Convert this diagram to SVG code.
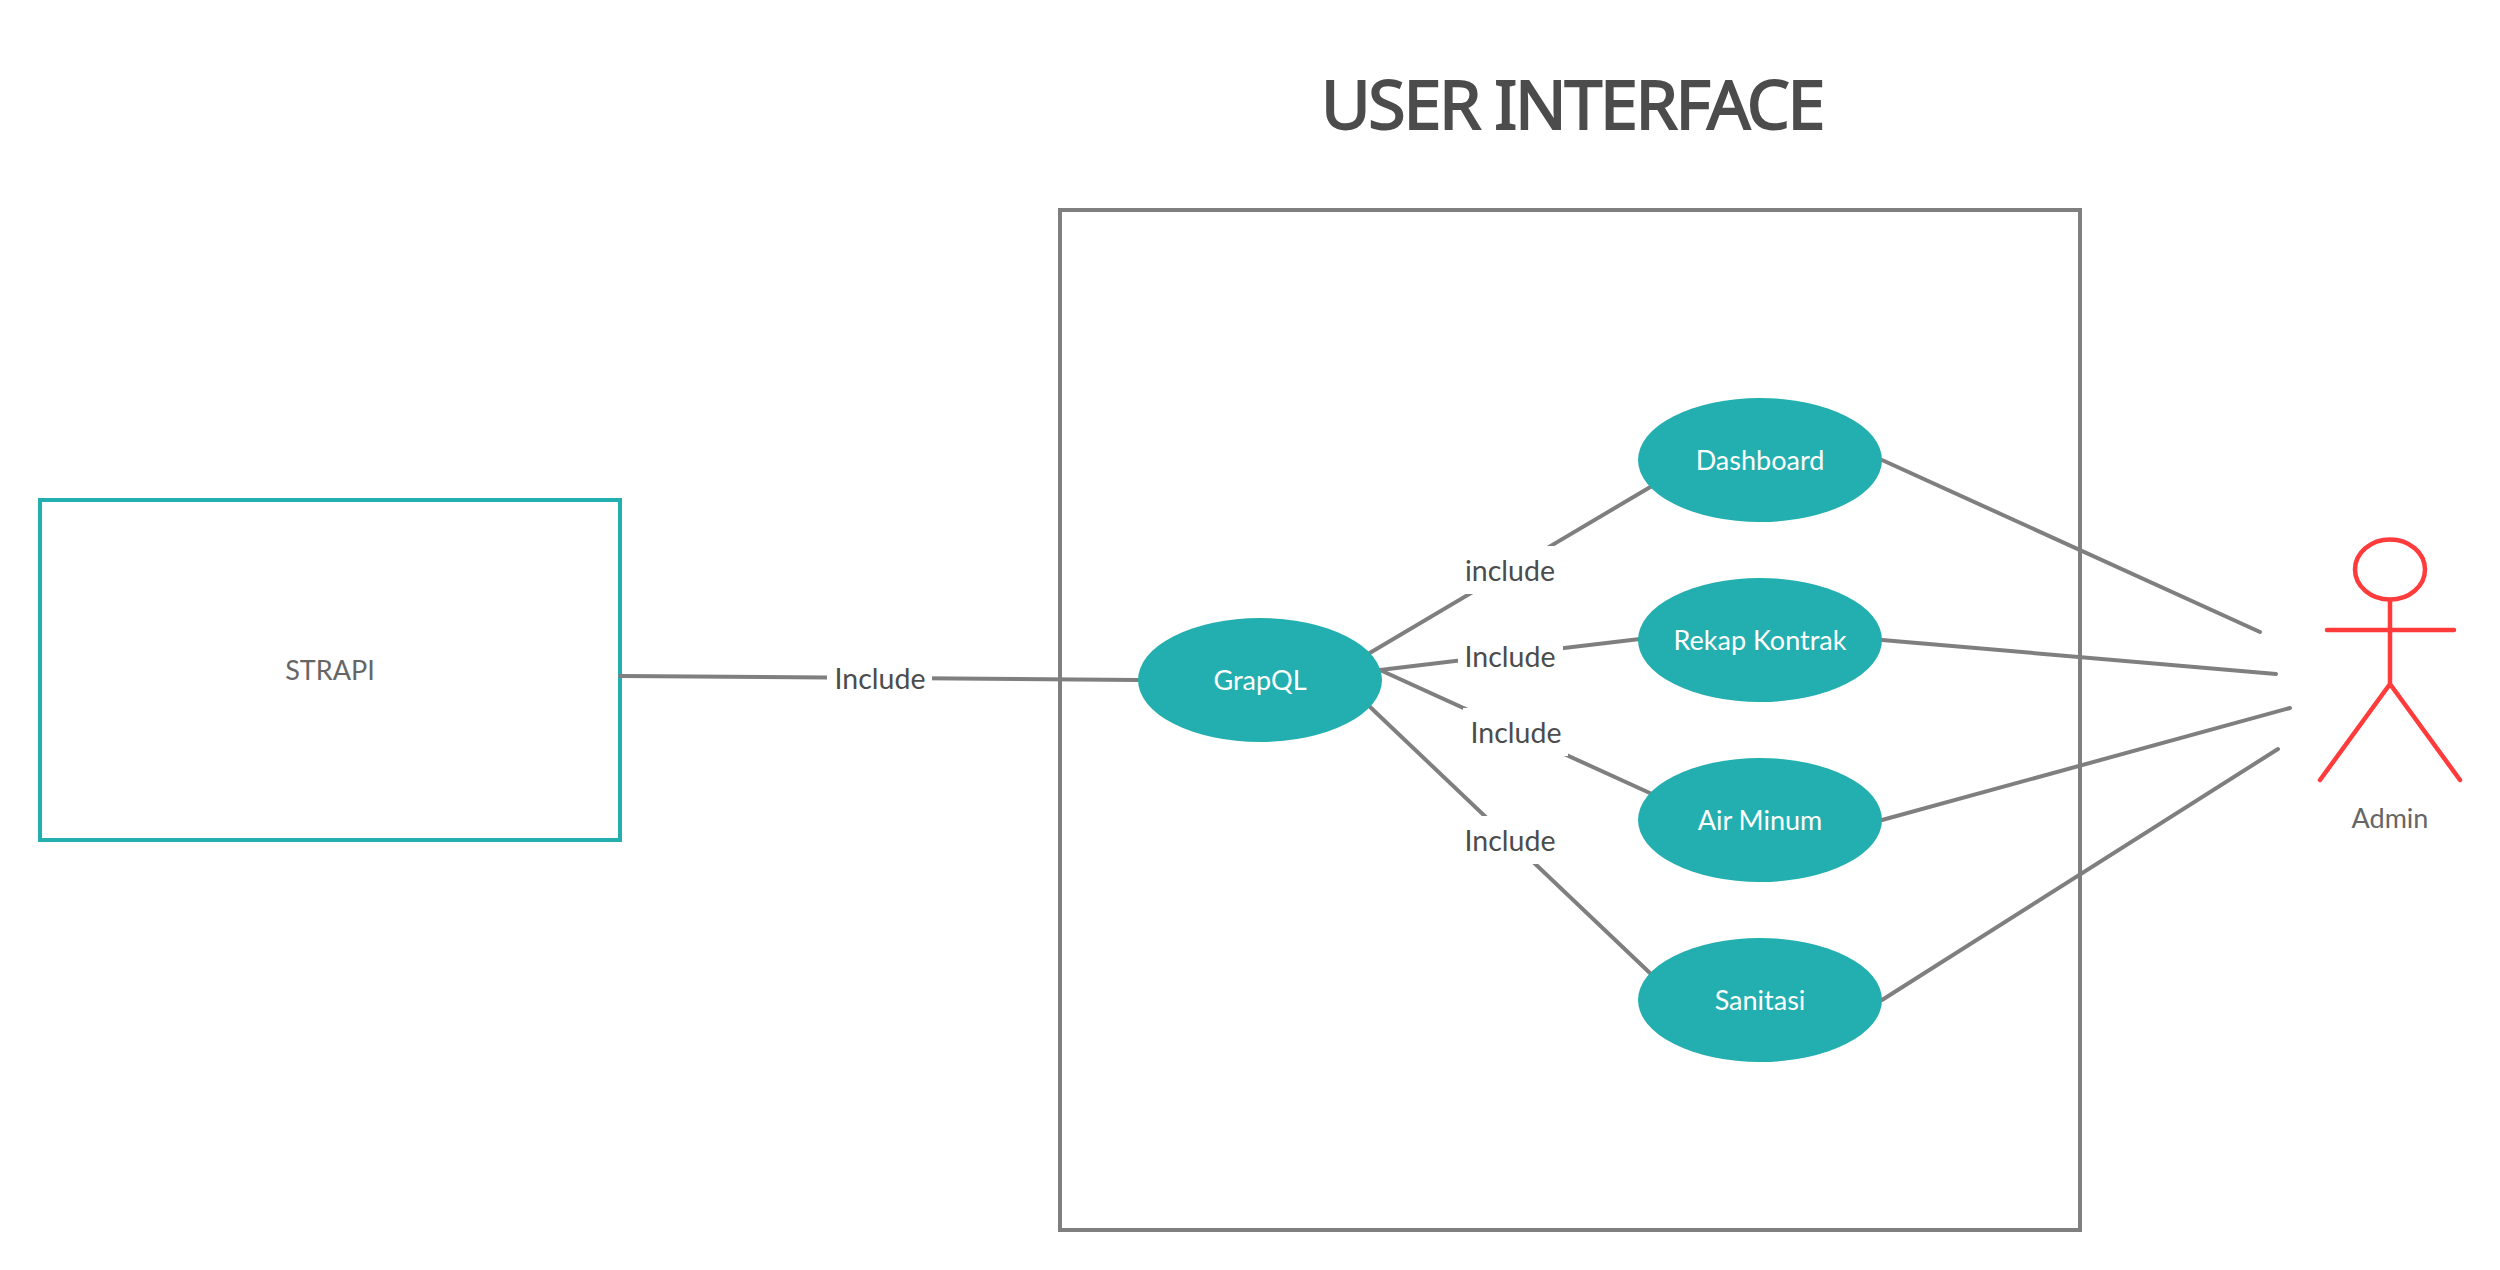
<svg xmlns="http://www.w3.org/2000/svg" width="2500" height="1270" viewBox="0 0 2500 1270">
<style>
.t{font-family:"Noto Sans","Open Sans",sans-serif;text-anchor:middle;dominant-baseline:central}
.lb{font-family:Lato,"Noto Sans",sans-serif;font-size:28.500px;fill:#4c4c4c;text-anchor:middle;dominant-baseline:central}
.nl{font-family:Lato,"Noto Sans",sans-serif;font-size:27px;fill:#666;text-anchor:middle;dominant-baseline:central}
.w{font-family:Lato,"Noto Sans",sans-serif;font-size:27px;fill:#fff;text-anchor:middle;dominant-baseline:central}
.uc{fill:#23afaf}
.cn{stroke:#7f7f7f;stroke-width:4;fill:none;stroke-linecap:round}
.ac{stroke:#ff3b3b;stroke-width:4.500;fill:none;stroke-linecap:round}
.bg{fill:#fff}
</style>
<rect width="2500" height="1270" fill="#fff"/>
<text id="title" x="1572" y="102" class="t" font-size="68" font-weight="400" fill="#4c4c4c" stroke="#4c4c4c" stroke-width="1.800" letter-spacing="-2.300">USER INTERFACE</text>
<g id="frame"><rect x="1060" y="210" width="1020" height="1020" fill="#fff" stroke="#7f7f7f" stroke-width="4"/></g>
<g id="strapi"><rect x="40" y="500" width="580" height="340" fill="#fff" stroke="#23afaf" stroke-width="4"/><text x="330" y="669" class="nl">STRAPI</text></g>
<g id="connectors">
<line class="cn" x1="620" y1="676" x2="1138" y2="680"/>
<line class="cn" x1="1368" y1="654" x2="1652" y2="486"/>
<line class="cn" x1="1380" y1="670" x2="1640" y2="639"/>
<line class="cn" x1="1380" y1="670" x2="1652" y2="794"/>
<line class="cn" x1="1368" y1="705" x2="1652" y2="975"/>
<line class="cn" x1="1882" y1="460" x2="2260" y2="632"/>
<line class="cn" x1="1882" y1="640" x2="2276" y2="674"/>
<line class="cn" x1="1882" y1="820" x2="2290" y2="708"/>
<line class="cn" x1="1882" y1="1000" x2="2278" y2="749"/>
<g id="labels">
<rect class="bg" x="827" y="655" width="105" height="46"/><text class="lb" x="880" y="678">Include</text>
<rect class="bg" x="1458" y="546" width="104" height="48"/><text class="lb" x="1510" y="570">include</text>
<rect class="bg" x="1458" y="634" width="105" height="48"/><text class="lb" x="1510" y="656">Include</text>
<rect class="bg" x="1463" y="708" width="105" height="48"/><text class="lb" x="1516" y="732">Include</text>
<rect class="bg" x="1458" y="816" width="105" height="48"/><text class="lb" x="1510" y="840">Include</text>
</g>
</g>
<g id="grapql"><ellipse class="uc" cx="1260" cy="680" rx="122" ry="62"/><text class="w" x="1260" y="679">GrapQL</text></g>
<g id="dashboard"><ellipse class="uc" cx="1760" cy="460" rx="122" ry="62"/><text class="w" x="1760" y="459">Dashboard</text></g>
<g id="rekap"><ellipse class="uc" cx="1760" cy="640" rx="122" ry="62"/><text class="w" x="1760" y="639">Rekap Kontrak</text></g>
<g id="air"><ellipse class="uc" cx="1760" cy="820" rx="122" ry="62"/><text class="w" x="1760" y="819">Air Minum</text></g>
<g id="sanitasi"><ellipse class="uc" cx="1760" cy="1000" rx="122" ry="62"/><text class="w" x="1760" y="999">Sanitasi</text></g>
<g id="admin">
<ellipse class="ac" cx="2390" cy="569.500" rx="35" ry="30"/>
<path class="ac" d="M2390 600V684M2327 630H2454M2320 780L2390 684L2460 780"/>
<text class="nl" x="2390" y="817">Admin</text>
</g>
</svg>
